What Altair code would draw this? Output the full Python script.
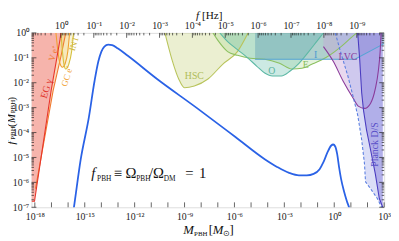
import altair as alt
import pandas as pd
import numpy as np

# ---------------- layout ----------------
W, H = 360, 178
X_DOMAIN = [-18.2, 3.0]        # log10 M_PBH [M_sun]
Y_DOMAIN = [-7.0, 0.0]         # log10 f_PBH
F_DOMAIN = [-9.833, 0.894]     # log10 f [Hz] (top axis, reversed)
FONT = "Liberation Serif"

# ---------------- axis labels (exponents) ----------------
X_LABELS = [-18, -15, -12, -9, -6, -3, 0, 3]
Y_LABELS = [0, -1, -2, -3, -4, -5, -6, -7]
F_LABELS = [0, -1, -2, -3, -4, -5, -6, -7, -8, -9]

# ---------------- f_PBH curve (log10 M, log10 f) ----------------
CURVE_LOGM = [-15.75, -15.65, -15.24, -14.76, -14.41, -14.18, -14.0, -13.82, -13.59, -13.35,
              -13.0, -12.41, -10.65, -8.29, -5.94, -4.18, -3.41, -2.71, -2.12, -1.65, -1.24,
              -0.88, -0.65, -0.41, -0.18, -0.06, 0.06, 0.18, 0.29, 0.41, 0.59, 0.76, 0.94, 1.05]
CURVE_LOGF = [-7.45, -7.0, -5.07, -3.42, -1.93, -1.14, -0.75, -0.55, -0.47, -0.49,
              -0.63, -0.92, -1.85, -3.0, -4.18, -5.07, -5.39, -5.62, -5.72, -5.72, -5.66,
              -5.47, -5.19, -4.80, -4.52, -4.48, -4.56, -4.88, -5.39, -5.86, -6.37, -6.76, -7.12, -7.5]

# ---------------- constraints ----------------
EG_LOGM = [-18.2, -18.02, -17.02, -16.49, -16.43]
EG_LOGF = [-6.76, -6.76, -2.32, -0.28, 0.0]
VE_LOGM = [-17.96, -16.90, -16.43, -16.14]
VE_LOGF = [-6.25, -2.32, -0.94, 0.0]
GC_LOGM = [-16.73, -16.61, -16.49, -16.34, -16.17, -16.02, -15.91]
GC_LOGF = [0.0, -0.75, -1.22, -1.38, -1.22, -0.75, 0.0]
INT_LOGM = [-16.43, -16.34, -16.26, -16.14, -15.96, -15.79, -15.67]
INT_LOGF = [0.0, -0.75, -1.22, -1.45, -1.26, -0.75, 0.0]
HSC_LOGM = [-10.18, -9.76, -9.35, -9.0, -8.41, -7.59, -6.71, -5.82, -5.18]
HSC_LOGF = [0.0, -1.06, -1.85, -2.20, -2.13, -1.85, -1.26, -0.75, 0.0]
E_LOGM = [-7.29, -6.94, -6.41, -5.82, -5.06, -4.18, -3.29, -2.53, -1.94, -1.35, -0.47, 0.41, 1.0, 1.35]
E_LOGF = [0.0, -0.35, -0.75, -0.90, -1.02, -1.06, -1.22, -1.45, -1.42, -1.26, -0.98, -0.55, -0.20, 0.0]
O_LOGM = [-6.88, -6.41, -5.82, -5.24, -4.65, -4.18, -3.71, -3.18, -2.65, -2.12, -1.53, -1.06, -0.65]
O_LOGF = [0.0, -0.35, -0.67, -0.98, -1.34, -1.61, -1.73, -1.73, -1.53, -1.22, -0.75, -0.35, 0.0]
I_LOGM = [-4.76, 1.24, 3.0]
I_LOGF = [-1.06, -1.06, -0.43]
LVC_LOGM = [-0.65, -0.06, 0.53, 1.12, 1.47, 1.82, 2.18, 2.47, 2.65, 2.76, 2.82]
LVC_LOGF = [-0.55, -1.14, -1.93, -2.60, -2.95, -3.03, -2.83, -2.24, -1.53, -0.75, 0.0]
PD_LOGM = [0.06, 0.41, 0.82, 1.12, 1.41, 1.65, 1.82, 1.88, 2.18, 2.59, 2.88]
PD_LOGF = [0.0, -0.83, -1.73, -2.52, -3.30, -4.29, -5.27, -5.98, -6.25, -6.65, -7.04]
PS_LOGM = [1.41, 1.53, 1.65, 1.76, 1.94, 2.18, 2.47, 2.71, 2.94]
PS_LOGF = [0.0, -1.06, -2.40, -3.11, -3.89, -4.68, -5.66, -6.65, -7.04]

# ---------------- helpers ----------------
SUP = str.maketrans("0123456789-", "⁰¹²³⁴⁵⁶⁷⁸⁹⁻")


def pow_label(n):
    return "10" + str(n).translate(SUP)


def label_expr(vals):
    return " : ".join(f"datum.value == {v} ? '{pow_label(v)}'" for v in vals) + " : ''"


XSC = alt.Scale(domain=X_DOMAIN, nice=False, zero=False)
YSC = alt.Scale(domain=Y_DOMAIN, nice=False, zero=False)
FSC = alt.Scale(domain=F_DOMAIN, nice=False, zero=False, reverse=True)

common_axis = dict(ticks=False, domain=False, grid=False, title=None, labelFont=FONT,
                   labelFontSize=10, labelColor="#222", labelOverlap=False, labelFlush=False)
XAX = alt.Axis(values=X_LABELS, labelExpr=label_expr(X_LABELS), labelPadding=4, **common_axis)
YAX = alt.Axis(values=Y_LABELS, labelExpr=label_expr(Y_LABELS), labelPadding=3, **common_axis)
FAX = alt.Axis(orient="top", values=F_LABELS, labelExpr=label_expr(F_LABELS), labelPadding=2, **common_axis)


def X(field="m"):
    return alt.X(f"{field}:Q", scale=XSC, axis=XAX)


def Y(field="f"):
    return alt.Y(f"{field}:Q", scale=YSC, axis=YAX)


def region(lm, lf, line_color, fill_color, op, interp="monotone", dash=None, width=1.1):
    df = pd.DataFrame({"m": lm, "f": lf})
    area = alt.Chart(df).mark_area(color=fill_color, opacity=op, interpolate=interp,
                                   orient="vertical", clip=True).encode(x=X(), y=Y(), y2=alt.value(0))
    lk = dict(color=line_color, strokeWidth=width, interpolate=interp, clip=True)
    if dash:
        lk["strokeDash"] = dash
    line = alt.Chart(df).mark_line(**lk).encode(x=X(), y=Y())
    return area, line


REGIONS = [
    (VE_LOGM, VE_LOGF, "#f07a30", "#f5a860", 0.4, "linear", None),
    (GC_LOGM, GC_LOGF, "#f0a030", "#f5c870", 0.3, "monotone", None),
    (INT_LOGM, INT_LOGF, "#d6c03e", "#e8dc80", 0.3, "monotone", None),
    (EG_LOGM, EG_LOGF, "#e8352b", "#f6b4ac", 1.0, "linear", None),
    (HSC_LOGM, HSC_LOGF, "#b9c45c", "#c5d07a", 0.35, "monotone", None),
    (E_LOGM, E_LOGF, "#8cc060", "#a8d890", 0.3, "monotone", None),
    (O_LOGM, O_LOGF, "#5cb8a4", "#6cc0b0", 0.35, "monotone", None),
    (I_LOGM, I_LOGF, "#56a4d4", "#4a90b0", 0.35, "linear", None),
    (LVC_LOGM, LVC_LOGF, "#8a3a9a", "#c8a0d8", 0.4, "monotone", None),
    (PD_LOGM, PD_LOGF, "#5a7ee0", "#b0b6ee", 0.45, "linear", [3, 2]),
    (PS_LOGM, PS_LOGF, "#4a3cc0", "#8880dc", 0.5, "linear", None),
]

areas, lines = [], []
for lm, lf, lc, fc, op, it, dash in REGIONS:
    a, l = region(lm, lf, lc, fc, op, it, dash)
    areas.append(a)
    lines.append(l)

curve = alt.Chart(pd.DataFrame({"m": CURVE_LOGM, "f": CURVE_LOGF})).mark_line(
    color="#2a62e6", strokeWidth=1.8, interpolate="monotone", clip=True).encode(x=X(), y=Y())

# ---------------- ticks (inward) ----------------
major_y = [float(k) for k in range(-7, 1)]
minor_y = [k + np.log10(m) for k in range(-7, 0) for m in range(2, 10)]
major_x = [float(k) for k in range(-18, 4)]
major_f = [float(k) for k in range(-9, 1)]
minor_f = [k + np.log10(m) for k in range(-10, 1) for m in range(2, 10)
           if F_DOMAIN[0] <= k + np.log10(m) <= F_DOMAIN[1]]

TICK = dict(color="#222", strokeWidth=0.7)


def yticks(vals, x1, x2):
    return alt.Chart(pd.DataFrame({"v": vals})).mark_rule(**TICK).encode(
        y=Y("v"), x=alt.value(x1), x2=alt.value(x2))


tick_layers = [
    yticks(major_y, 0, 5), yticks(minor_y, 0, 2.5),
    yticks(major_y, W, W - 5), yticks(minor_y, W, W - 2.5),
    alt.Chart(pd.DataFrame({"v": major_x})).mark_rule(**TICK).encode(
        x=X("v"), y=alt.value(H), y2=alt.value(H - 5)),
]

# ---------------- annotations ----------------
def dtext(m, f, s, color, size=10, angle=0, italic=False, align="center", baseline="middle", dx=0, dy=0):
    kw = dict(color=color, fontSize=size, font=FONT, align=align, baseline=baseline, dx=dx, dy=dy)
    if angle:
        kw["angle"] = angle
    if italic:
        kw["fontStyle"] = "italic"
    return alt.Chart(pd.DataFrame({"m": [m], "f": [f], "t": [s]})).mark_text(**kw).encode(
        x=X(), y=Y(), text="t:N")


def ptext(px, py, s, size=12, angle=0, italic=False, align="left", baseline="alphabetic", color="#111"):
    kw = dict(color=color, fontSize=size, font=FONT, align=align, baseline=baseline, text=s)
    if angle:
        kw["angle"] = angle
    if italic:
        kw["fontStyle"] = "italic"
    return alt.Chart(pd.DataFrame({"a": [0]})).mark_text(**kw).encode(x=alt.value(px), y=alt.value(py))


labels = [
    dtext(-8.41, -1.73, "HSC", "#b0bc58", 10),
    dtext(-3.76, -1.53, "O", "#58b29e", 10),
    dtext(-1.71, -1.30, "E", "#86bc5a", 10),
    dtext(-1.12, -0.87, "I", "#4c9ad0", 10),
    dtext(0.82, -0.98, "LVC", "#8a3a9a", 10),
    dtext(2.47, -4.48, "Planck D/S", "#5a50c8", 10, angle=270),
    dtext(-17.29, -2.24, "EG γ", "#e03028", 10, angle=287),
    dtext(-16.88, -0.83, "V e⁺", "#f07a30", 9, angle=287),
    dtext(-16.06, -1.73, "GC e⁺", "#f0a030", 9, angle=287),
    dtext(-15.65, -0.43, "INT", "#d0b840", 9, angle=287),
]

# formula f_PBH = Omega_PBH / Omega_DM = 1
FM, FF = -14.61, -5.82
FORMULA = [("f", 0, 15, True, 0), ("PBH", 6, 7.5, False, 3), ("≡", 23, 15, False, 0),
           ("Ω", 35, 15, False, 0), ("PBH", 46, 7.5, False, 3), ("/", 59, 15, False, 0),
           ("Ω", 63, 15, False, 0), ("DM", 74, 7.5, False, 3), ("=", 96, 15, False, 0),
           ("1", 110, 15, False, 0)]
for s, dx, size, it, dy in FORMULA:
    labels.append(dtext(FM, FF, s, "#111", size, italic=it, align="left", baseline="alphabetic", dx=dx, dy=dy))

# axis titles
titles = [
    # bottom: M_PBH [M_sun]
    ptext(155, 205, "M", 13, italic=True), ptext(166, 207.5, "PBH", 7),
    ptext(181, 205, "[", 13), ptext(185, 205, "M", 13, italic=True),
    ptext(196, 207.5, "⊙", 8), ptext(202, 205, "]", 13),
    # top: f [Hz]
    ptext(168, -14.5, "f", 11.5, italic=True), ptext(174, -14.5, "[Hz]", 11.5),
    # left: f_PBH(M_PBH)
    ptext(-16.5, 114, "f", 11, angle=270, italic=True), ptext(-16.5, 109, "PBH", 7, angle=270),
    ptext(-16.5, 96, "(", 11, angle=270), ptext(-16.5, 92, "M", 11, angle=270, italic=True),
    ptext(-16.5, 82, "PBH", 7, angle=270), ptext(-16.5, 69, ")", 11, angle=270),
]

main = alt.layer(*areas, *lines, curve, *tick_layers, *labels, *titles)

top_major = alt.Chart(pd.DataFrame({"v": major_f})).mark_rule(**TICK).encode(
    x=alt.X("v:Q", scale=FSC, axis=FAX), y=alt.value(0), y2=alt.value(5))
top_minor = alt.Chart(pd.DataFrame({"v": minor_f})).mark_rule(**TICK).encode(
    x=alt.X("v:Q", scale=FSC, axis=FAX), y=alt.value(0), y2=alt.value(2.5))
top = alt.layer(top_major, top_minor)

chart = alt.layer(main, top).resolve_scale(x="independent").properties(
    width=W, height=H,
    autosize=alt.AutoSizeParams(type="none"),
    padding={"left": 24, "top": 23, "right": 7, "bottom": 32},
).configure_view(stroke="#222", strokeWidth=1).configure(background="white")

chart.save("out.html", embed_options={"renderer": "svg", "actions": False})
